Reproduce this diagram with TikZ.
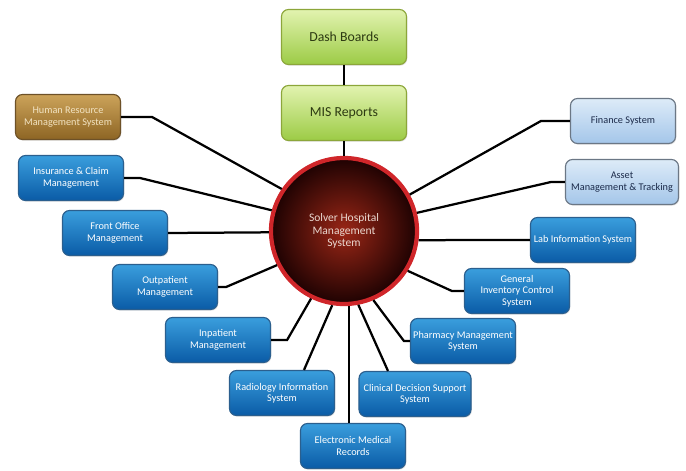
\documentclass[tikz,border=0pt]{standalone}
\usepackage{fontspec}
\setmainfont{Carlito}
\usepackage{tikz}
\usetikzlibrary{shadows}

\definecolor{BlueTop}{HTML}{3A9EDD}
\definecolor{BlueBot}{HTML}{0A5BA6}
\definecolor{BlueEdge}{HTML}{2B5F8E}
\definecolor{PaleTop}{HTML}{DDEBF8}
\definecolor{PaleBot}{HTML}{A4C6E9}
\definecolor{PaleEdge}{HTML}{6B7785}
\definecolor{PaleText}{HTML}{1C2B4A}
\definecolor{GreenTop}{HTML}{E2F3B0}
\definecolor{GreenBot}{HTML}{9CCB45}
\definecolor{GreenEdge}{HTML}{8CA63A}
\definecolor{GreenText}{HTML}{2D3A12}
\definecolor{BrownTop}{HTML}{CCA35A}
\definecolor{BrownBot}{HTML}{8D6524}
\definecolor{BrownEdge}{HTML}{6D5128}
\definecolor{BrownText}{HTML}{F2E3C2}
\definecolor{HubIn}{HTML}{9A2616}
\definecolor{HubOut}{HTML}{1E0202}
\definecolor{HubEdge}{HTML}{D0262A}
\definecolor{HubText}{HTML}{EAD8D0}

\begin{document}
\begin{tikzpicture}[x=0.025cm,y=-0.025cm]
      \tikzset{BoxStyle/.style = {rounded corners=5pt, line width=0.8pt, align=center,
          minimum width=2.625cm, minimum height=1.125cm, inner sep=1pt,
          font=\fontsize{7.3}{8.1}\selectfont,
          drop shadow={opacity=0.25, shadow xshift=0.6pt, shadow yshift=-0.8pt}}}
      \tikzset{BlueStyle/.style = {BoxStyle, draw=BlueEdge, top color=BlueTop, bottom color=BlueBot, text=white}}
      \tikzset{PaleStyle/.style = {BoxStyle, draw=PaleEdge, top color=PaleTop, bottom color=PaleBot, text=PaleText}}
      \tikzset{GreenStyle/.style = {BoxStyle, draw=GreenEdge, top color=GreenTop, bottom color=GreenBot, text=GreenText,
          minimum width=3.125cm, minimum height=1.375cm, font=\fontsize{9.8}{11}\selectfont}}
      \tikzset{BrownStyle/.style = {BoxStyle, draw=BrownEdge, top color=BrownTop, bottom color=BrownBot, text=BrownText}}
      \tikzset{LinkStyle/.style = {line width=1.6pt, black}}

      \useasboundingbox (0,0) rectangle (686,470);

      \node[circle, minimum size=3.65cm, line width=3pt, draw=HubEdge,
            inner color=HubIn, outer color=HubOut, text=HubText, align=center,
            font=\fontsize{8.2}{8.8}\selectfont] (Hub) at (344,231)
            {Solver Hospital\\Management\\System};

      \node[GreenStyle] (Dash) at (344,37) {Dash Boards};
      \node[GreenStyle] (MIS) at (344,113) {MIS Reports};

      \node[BrownStyle] (HR) at (68,117) {Human Resource\\Management System};
      \node[BlueStyle] (Ins) at (71,178) {Insurance \& Claim\\Management};
      \node[BlueStyle] (Front) at (115,233) {Front Office\\Management};
      \node[BlueStyle] (Out) at (165,287) {Outpatient\\Management};
      \node[BlueStyle] (In) at (218,340) {Inpatient\\Management};
      \node[BlueStyle] (Rad) at (282,393) {Radiology Information\\System};
      \node[BlueStyle] (EMR) at (353,446) {Electronic Medical\\Records};
      \node[BlueStyle, minimum width=2.8cm] (CDS) at (415,394) {Clinical Decision Support\\System};
      \node[BlueStyle] (Pharm) at (463,341) {Pharmacy Management\\System};
      \node[BlueStyle] (Inv) at (517,291) {General\\Inventory Control\\System};
      \node[BlueStyle] (Lab) at (583,240) {Lab Information System};
      \node[PaleStyle, minimum width=2.825cm] (Asset) at (622,182) {Asset\\Management \& Tracking};
      \node[PaleStyle] (Fin) at (623,121) {Finance System};

      % links to the hub
      \draw[LinkStyle] (Dash) -- (MIS);
      \draw[LinkStyle] (MIS) -- (Hub);
      \draw[LinkStyle] (HR.east) -- ++(31,0) -- (Hub.146);
      \draw[LinkStyle] (Ins.east) -- ++(16,0) -- (Hub.164);
      \draw[LinkStyle] (Front.east) -- (Hub.181);
      \draw[LinkStyle] (Out.east) -- ++(8,0) -- (Hub.207);
      \draw[LinkStyle] (In.east) -- ++(16,0) -- (Hub.244);
      \draw[LinkStyle] ([xshift=0.55cm]Rad.north) -- (Hub.261);
      \draw[LinkStyle] (Hub.274) -- (Hub.274 |- EMR.north);
      \draw[LinkStyle] ([xshift=-0.675cm]CDS.north) -- (Hub.281);
      \draw[LinkStyle] (Pharm.west) -- ++(-6,0) -- (Hub.293);
      \draw[LinkStyle] (Inv.west) -- ++(-12,0) -- (Hub.328);
      \draw[LinkStyle] (Lab.west) -- (Hub.353);
      \draw[LinkStyle] (Asset.west) -- ++(-14,0) -- (Hub.14);
      \draw[LinkStyle] (Fin.west) -- ++(-29,0) -- (Hub.29);
\end{tikzpicture}
\end{document}
